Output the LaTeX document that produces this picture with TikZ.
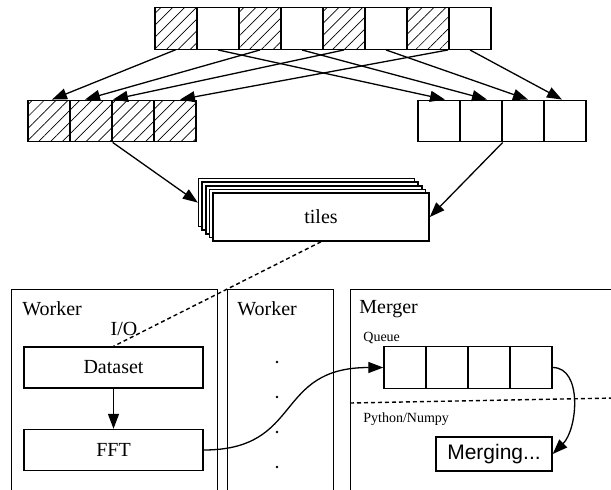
\documentclass[tikz,border=0pt]{standalone}
\usepackage{fontspec}
\setmainfont{Liberation Serif}
\newfontfamily\mergefont{Liberation Sans}
\usetikzlibrary{arrows.meta,patterns.meta}

\tikzset{
  >={Triangle[length=7.5pt,width=5.5pt]},
  conn/.style={->, line width=0.65pt},
  cell/.style={draw, line width=0.7pt, minimum width=21pt, minimum height=20.75pt, inner sep=0pt},
  hatched/.style={pattern={Lines[angle=45,distance=4.2pt,line width=0.35pt]}},
  tilebox/.style={draw, fill=white, line width=0.8pt, minimum width=108pt, minimum height=24pt, inner sep=0pt},
  panel/.style={draw, line width=0.7pt, anchor=north west, inner sep=0pt, minimum height=120pt},
  stepbox/.style={draw, line width=0.7pt, minimum width=89.5pt, minimum height=20.5pt, inner sep=0pt},
  paneltitle/.style={anchor=base west, inner sep=0pt},
  smalltxt/.style={anchor=base west, inner sep=0pt, font=\fontsize{7}{8}\selectfont},
}

\begin{document}
\begin{tikzpicture}[x=0.5pt,y=-0.5pt]
  % Frame
  \useasboundingbox (0,0) rectangle (611,489);
  \clip (0,0) rectangle (611,489);

  % Parameters
  \def\cw{42}

  % Input row
  \foreach \i in {1,3,5,7}
    \node[cell,hatched] (t\i) at ({155+\cw*(\i-0.5)},28.5) {};
  \foreach \i in {2,4,6,8}
    \node[cell] (t\i) at ({155+\cw*(\i-0.5)},28.5) {};

  % Split rows
  \foreach \i in {1,...,4} {
    \node[cell,hatched] (l\i) at ({28+\cw*(\i-0.5)},121) {};
    \node[cell] (r\i) at ({418+\cw*(\i-0.5)},121) {};
  }

  % Scatter
  \draw[conn] (t1.south) -- ([xshift=1.5pt]l1.north);
  \draw[conn] (t3.south) -- ([xshift=-3pt]l2.north);
  \draw[conn] (t5.south) -- ([xshift=-10pt]l3.north);
  \draw[conn] ([xshift=10pt]t7.south) -- ([xshift=2.5pt]l4.north);
  \draw[conn] (t2.south) -- ([xshift=3pt]r1.north);
  \draw[conn] (t4.south) -- ([xshift=3pt]r2.north);
  \draw[conn] (t6.south) -- ([xshift=2.5pt]r3.north);
  \draw[conn] (t8.south) -- ([xshift=-1.5pt]r4.north);

  % Tiles stack
  \foreach \k in {4,3,2,1}
    \node[tilebox] (tiles\k) at ({321-3.6*\k},{217-3.6*\k}) {};
  \node[tilebox] (tiles) at (321,217) {tiles};

  \draw[conn] (l2.south east) -- (tiles4.west);
  \draw[conn] (r2.south east) -- (tiles.east);

  % Panels
  \node[panel, minimum width=103pt] (worker1) at (11,289) {};
  \node[panel, minimum width=53pt] (worker2) at (227,289) {};
  \node[panel, minimum width=150pt] (merger) at (350,289) {};
  \node[paneltitle] (worker1title) at (22,315) {Worker};
  \node[paneltitle] (worker2title) at (237,315) {Worker};
  \node[paneltitle] (mergertitle) at (359,313) {Merger};

  % Worker
  \node[anchor=base, inner sep=0pt] (io) at (124,335) {I/O};
  \node[stepbox] (dataset) at (113.5,367.5) {Dataset};
  \node[stepbox] (fft) at (113.5,450) {FFT};
  \draw[conn] (dataset) -- (fft);
  \draw[line width=0.7pt, dash pattern=on 2pt off 1.5pt] (tiles.south) -- (dataset.north);

  % More workers
  \foreach \y in {362,397,432,467}
    \fill (277,\y) circle (0.7pt);

  % Merger
  \node[smalltxt] (queuetitle) at (363,341) {Queue};
  \foreach \i in {1,...,4}
    \node[cell] (q\i) at ({384+\cw*(\i-0.5)},367.5) {};
  \draw[line width=0.7pt, dash pattern=on 2pt off 1.5pt] (350,403) -- (615,398);
  \node[smalltxt] (pytitle) at (363,422) {Python/Numpy};
  \node[draw, line width=0.7pt, minimum width=58pt, minimum height=17pt, inner sep=0pt,
        font={\mergefont\fontsize{10.5}{12}\selectfont}] (merging) at (494,454) {Merging...};

  \draw[conn] (fft.east) .. controls +(100,0) and +(-110,0) .. (q1.west);
  \draw[conn] (q4.east) .. controls +(30,0) and +(25,-25) .. (merging.east);

\end{tikzpicture}
\end{document}
